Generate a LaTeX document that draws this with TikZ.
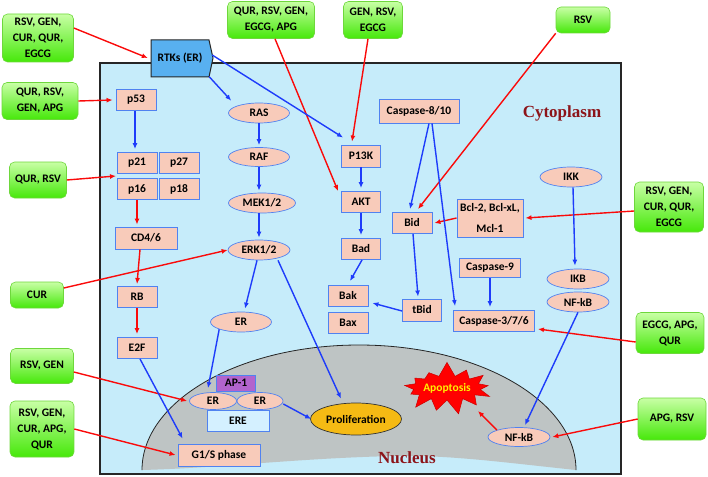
\documentclass[tikz,border=0pt]{standalone}
\usepackage{fontspec}
\setmainfont{Carlito}
\newfontfamily\labfont{Liberation Serif}
\usetikzlibrary{shapes.geometric,shapes.symbols,arrows.meta,calc}
\definecolor{cellbg}{RGB}{198,236,250}
\definecolor{nucgray}{RGB}{190,196,196}
\definecolor{pfill}{RGB}{248,203,186}
\definecolor{pborder}{RGB}{80,130,240}
\definecolor{gtop}{RGB}{200,255,165}
\definecolor{gbot}{RGB}{70,232,10}
\definecolor{gborder}{RGB}{110,215,60}
\definecolor{rtkfill}{RGB}{88,176,240}
\definecolor{apfill}{RGB}{178,100,205}
\definecolor{erefill}{RGB}{212,240,255}
\definecolor{prolfill}{RGB}{245,186,20}
\definecolor{redarr}{RGB}{250,10,10}
\definecolor{bluearr}{RGB}{30,60,250}
\definecolor{labred}{RGB}{140,20,25}
\tikzset{
  txt/.style={font=\fontsize{11.5}{16}\selectfont\bfseries, align=center, text=black},
  gbox/.style={txt, draw=gborder, line width=0.6pt, rounded corners=5pt, top color=gtop, bottom color=gbot, inner sep=0pt},
  pbox/.style={txt, draw=pborder, fill=pfill, line width=0.9pt, minimum width=40pt, minimum height=21pt, inner sep=0pt},
  pell/.style={txt, ellipse, draw=pborder, fill=pfill, line width=0.7pt, minimum width=61pt, minimum height=20pt, inner sep=0pt},
  rarr/.style={draw=redarr, line width=1.4pt, -{Latex[length=6pt,width=5pt]}},
  barr/.style={draw=bluearr, line width=1.4pt, -{Latex[length=6pt,width=5pt]}},
  biglab/.style={font=\fontsize{17}{20}\selectfont\labfont\bfseries, text=labred}
}
\begin{document}
\begin{tikzpicture}[x=1pt,y=-1pt]
\useasboundingbox (0,0) rectangle (708,476);
% cell
\filldraw[fill=cellbg, draw=black!85, line width=1.5pt] (100,63) rectangle (621,474);
% nucleus
\fill[nucgray] (142,470) arc[start angle=180, end angle=360, x radius=217, y radius=125]
  .. controls (500,462) and (450,455) .. (395,456) .. controls (300,458) and (220,468) .. (142,470) -- cycle;
\draw[black!85, line width=0.8pt] (142,470) arc[start angle=180, end angle=360, x radius=217, y radius=125];
\node[biglab] (cyto) at (562,113) {Cytoplasm};
\node[biglab] (nuc) at (407,458) {Nucleus};

% green boxes
\node[gbox, minimum width=71pt, minimum height=48pt] (g1) at (38,38) {RSV, GEN,\\CUR, QUR,\\EGCG};
\node[gbox, minimum width=76pt, minimum height=37pt] (g2) at (40,101) {QUR, RSV,\\GEN, APG};
\node[gbox, minimum width=57pt, minimum height=36pt] (g3) at (38,180) {QUR, RSV};
\node[gbox, minimum width=53pt, minimum height=26pt] (g4) at (37,295) {CUR};
\node[gbox, minimum width=63pt, minimum height=35pt] (g5) at (42,366) {RSV, GEN};
\node[gbox, minimum width=64pt, minimum height=56pt] (g6) at (42,429) {RSV, GEN,\\CUR, APG,\\QUR};
\node[gbox, minimum width=87pt, minimum height=37pt] (g7) at (271,20) {QUR, RSV, GEN,\\EGCG, APG};
\node[gbox, minimum width=59pt, minimum height=37pt] (g8) at (373,20) {GEN, RSV,\\EGCG};
\node[gbox, minimum width=54pt, minimum height=26pt] (g9) at (583,20) {RSV};
\node[gbox, minimum width=69pt, minimum height=50pt] (g10) at (669,207) {RSV, GEN,\\CUR, QUR,\\EGCG};
\node[gbox, minimum width=68pt, minimum height=41pt] (g11) at (670,333) {EGCG, APG,\\QUR};
\node[gbox, minimum width=68pt, minimum height=42pt] (g12) at (672,419) {APG, RSV};

% RTKs
\node[txt, minimum width=62pt, minimum height=37pt, inner sep=0pt] (rtk) at (181,58) {};
\filldraw[fill=rtkfill, draw=black!85, line width=1pt] (151,40) -- (209,40) -- (213,58) -- (209,77) -- (151,77) -- cycle;
\node[txt] (rtktxt) at (180,58) {RTKs (ER)};

% left column
\node[pbox] (p53) at (136,100) {p53};
\node[pbox] (p21) at (137,163) {p21};
\node[pbox] (p27) at (179,163) {p27};
\node[pbox] (p16) at (137,189) {p16};
\node[pbox] (p18) at (179,189) {p18};
\node[pbox, minimum width=62pt, minimum height=22pt] (cd) at (146,238) {CD4/6};
\node[pbox] (rb) at (137,297) {RB};
\node[pbox] (e2f) at (137,348) {E2F};
\node[pbox, minimum width=82pt, minimum height=22pt] (gs) at (219,455) {G1/S phase};
\coordinate (p2116) at (116,176);

% MAPK column
\node[pell] (ras) at (259,113) {RAS};
\node[pell, minimum height=19pt] (raf) at (259,157) {RAF};
\node[pell, minimum width=67pt] (mek) at (262,203) {MEK1/2};
\node[pell, minimum width=62pt] (erk) at (259,250) {ERK1/2};
\node[pell] (ercy) at (241,322) {ER};
\node[txt, draw=pborder, fill=apfill, line width=0.7pt, minimum width=39pt, minimum height=16pt, inner sep=0pt] (ap1) at (236,383) {AP-1};
\node[txt, draw=pborder, fill=erefill, line width=0.9pt, minimum width=62pt, minimum height=21pt, inner sep=0pt] (ere) at (238,421) {ERE};
\node[pell, minimum width=47pt, minimum height=17pt] (ern1) at (213,401) {ER};
\node[pell, minimum width=46pt, minimum height=17pt] (ern2) at (260,401) {ER};
\node[txt, ellipse, draw=black!80, fill=prolfill, line width=0.7pt, minimum width=91pt, minimum height=32pt, inner sep=0pt] (prol) at (356,419) {Proliferation};

% PI3K column
\node[pbox, minimum width=39pt, minimum height=22pt] (pk) at (361,156) {P13K};
\node[pbox, minimum width=39pt] (akt) at (361,202) {AKT};
\node[pbox, minimum width=39pt] (bad) at (361,249) {Bad};
\node[pbox] (bak) at (348,296) {Bak};
\node[pbox] (bax) at (348,323) {Bax};
\node[pbox, minimum width=39pt, minimum height=22pt] (tbid) at (422,310) {tBid};
\node[pbox, minimum width=80pt, minimum height=24pt] (cas8) at (419,111) {Caspase-8/10};
\node[pbox] (bid) at (412,223) {Bid};
\node[pbox, minimum width=66pt, minimum height=38pt, font=\fontsize{11.5}{21}\selectfont\bfseries] (bcl) at (490,218) {Bcl-2, Bcl-xL,\\Mcl-1};
\node[pbox, minimum width=61pt, minimum height=19pt] (cas9) at (490,268) {Caspase-9};
\node[pbox, minimum width=81pt, minimum height=21pt] (cas3) at (494,321) {Caspase-3/7/6};

% NF-kB column
\node[pell, minimum width=62pt] (ikk) at (571,177) {IKK};
\node[pell, minimum width=62pt] (ikb) at (578,279) {IKB};
\node[pell, minimum width=62pt] (nfc) at (578,302) {NF-kB};
\node[pell, minimum width=62pt, minimum height=19pt] (nfn) at (519,437) {NF-kB};

% apoptosis
\node[starburst, starburst points=13, starburst point height=15pt, random starburst=7, fill=red, draw=red!80!black, line width=0.5pt, minimum width=95pt, minimum height=54pt, inner sep=0pt, font=\fontsize{11.5}{12}\selectfont\bfseries, text={rgb,255:red,255;green,240;blue,0}] (apop) at (447,388) {Apoptosis};
\coordinate (apoptip) at (478,411);

% red arrows
\draw[rarr] ([yshift=10pt]g1.east) -- ([xshift=-2pt]rtk.west);
\draw[rarr] (g2.east) -- ([xshift=-3pt]p53.west);
\draw[rarr] (g3.east) -- (p2116);
\draw[rarr] ([yshift=7pt]g4.east) -- (erk.west);
\draw[rarr] ([yshift=-6pt]g5.east) -- ([xshift=-2pt]ern1.west);
\draw[rarr] (g6.east) -- ([xshift=-2pt]gs.west);
\draw[rarr] ([xshift=4pt]g7.south) -- ([xshift=-3pt]akt.north west);
\draw[rarr] ([xshift=-5pt]g8.south) -- ([xshift=-9pt,yshift=3pt]pk.north);
\draw[rarr] (g9.south west) -- ([xshift=6pt,yshift=3pt]bid.north);
\draw[rarr] ([yshift=-4pt]g10.west) -- ([xshift=2pt]bcl.east);
\draw[rarr] (bcl.west) -- ([xshift=2pt]bid.east);
\draw[rarr] ([yshift=-9pt]g11.west) -- ([xshift=3pt,yshift=-8pt]cas3.east);
\draw[rarr] (g12.west) -- ([xshift=2pt]nfn.east);
\draw[rarr] (nfn.north west) -- (apoptip);
\draw[rarr] (p16.south) -- ([xshift=-9pt,yshift=2pt]cd.north);
\draw[rarr] ([xshift=-6pt]cd.south) -- ([yshift=2pt]rb.north);
\draw[rarr] (rb.south) -- ([yshift=3pt]e2f.north);

% blue arrows
\draw[barr] ([xshift=-1pt]p53.south) -- ([xshift=-2pt,yshift=3pt]p21.north);
\draw[barr] ([xshift=-3pt]rtk.south east) -- ([xshift=-6pt,yshift=5pt]ras.north west);
\draw[barr] ([yshift=3pt]rtk.east) -- ([xshift=2pt,yshift=7pt]pk.north west);
\draw[barr] (ras.south) -- ([yshift=2pt]raf.north);
\draw[barr] (raf.south) -- ([xshift=-3pt,yshift=2pt]mek.north);
\draw[barr] ([xshift=-3pt]mek.south) -- ([yshift=2pt]erk.north);
\draw[barr] ([xshift=-2pt]erk.south) -- ([xshift=4pt,yshift=3pt]ercy.north);
\draw[barr] ([xshift=19pt]erk.south) -- ([xshift=-15pt,yshift=4pt]prol.north);
\draw[barr] (ercy.south west) -- ([xshift=-5pt,yshift=4pt]ern1.north);
\draw[barr] ([yshift=-3pt]ern2.east) -- ([xshift=1pt]prol.west);
\draw[barr] ([xshift=3pt]e2f.south) -- ([xshift=5pt,yshift=5pt]gs.north west);
\draw[barr] (pk.south) -- ([yshift=3pt]akt.north);
\draw[barr] (akt.south) -- ([yshift=3pt]bad.north);
\draw[barr] ([xshift=1pt]bad.south) -- ([xshift=2pt,yshift=4pt]bak.north);
\draw[barr] ([yshift=-1pt]tbid.west) -- ([xshift=4pt,yshift=-7pt]bak.east);
\draw[barr] ([xshift=1pt]bid.south) -- ([xshift=-4pt,yshift=2pt]tbid.north);
\draw[barr] ([xshift=10pt]cas8.south) -- ([xshift=-2pt,yshift=3pt]bid.north);
\draw[barr] ([xshift=13pt]cas8.south) -- ([xshift=2pt,yshift=4pt]cas3.north west);
\draw[barr] (cas9.south) -- ([xshift=-4pt,yshift=3pt]cas3.north);
\draw[barr] ([xshift=2pt]ikk.south) -- ([xshift=-3pt,yshift=3pt]ikb.north);
\draw[barr] (nfc.south) -- ([xshift=6pt,yshift=2pt]nfn.north);
\end{tikzpicture}
\end{document}
